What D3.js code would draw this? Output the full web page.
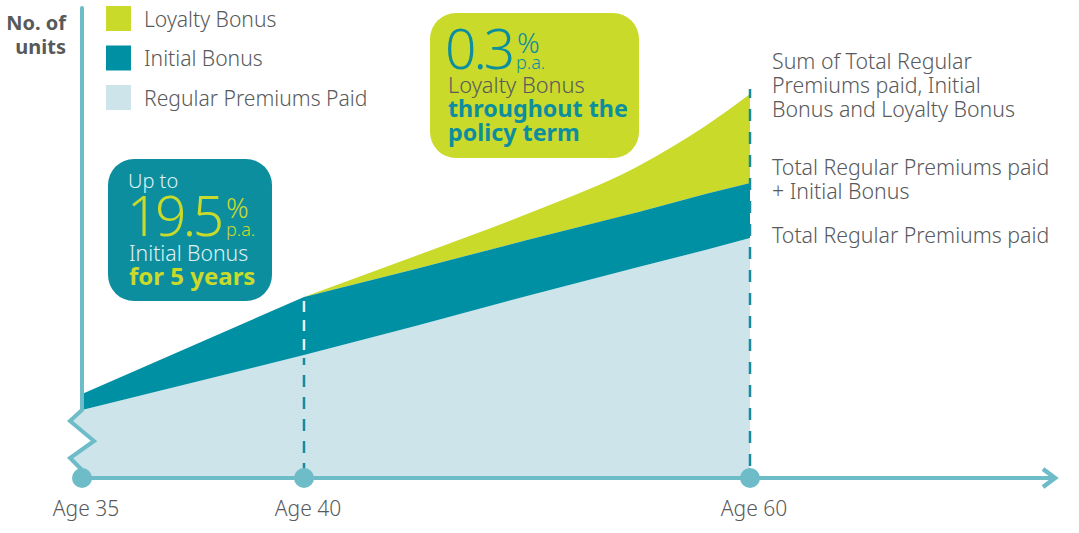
<!DOCTYPE html>
<html>
<head>
<meta charset="utf-8">
<script src="https://cdn.jsdelivr.net/npm/d3@7"></script>
<style>
  body { margin: 0; background: #fff; }
  text { font-family: "Noto Sans", sans-serif; fill: #58595b; font-weight: 300; }
  .strong { font-weight: 700; }
</style>
</head>
<body>
<svg id="chart" width="1079" height="533"></svg>
<script>
// values (units are arbitrary, y axis has no ticks)
var ages = [35, 40, 45, 50, 55, 58, 60];
var premiums = [68, 123, 152, 182, 211, 228, 240];
var withInitial = [84, 181, 209, 238, 266, 284, 295];
var withLoyalty = [84, 181, 222, 264, 312, 352, 384];

// the broken bottom of the y axis
var breakAges = [35, 34.73, 35.27, 34.73, 35];
var breakUnits = [68, 57, 37, 20, 8];

var tickAges = [35, 40, 60];
var tickLabels = ["Age 35", "Age 40", "Age 60"];

var legendNames = ["Loyalty Bonus", "Initial Bonus", "Regular Premiums Paid"];
var legendColors = ["#c9da2a", "#0090a4", "#cde4ea"];
var sideNotes = [
  "Sum of Total Regular", "Premiums paid, Initial", "Bonus and Loyalty Bonus",
  "Total Regular Premiums paid", "+ Initial Bonus",
  "Total Regular Premiums paid"
];
var sideNoteY = [68, 92, 116, 174, 198, 242];

var axisColor = "#6dbcc8";
var dashColor = "#1b8a9c";

var svg = d3.select("#chart");

// age axis is not to scale in the original so it is piecewise
var x = d3.scaleLinear().domain([35, 40, 60]).range([82, 304, 750]);
var y = d3.scaleLinear().domain([0, 470]).range([478, 8]);

var rows = ages.map(function(a, i) {
  return { age: a, p: premiums[i], i: withInitial[i], l: withLoyalty[i] };
});

// light area first, with the zigzag on its left edge
var lightShape = [[x(35), y(0)]];
breakAges.slice().reverse().forEach(function(a, i) {
  lightShape.push([x(a), y(breakUnits[breakUnits.length - 1 - i])]);
});
rows.forEach(function(d) { lightShape.push([x(d.age), y(d.p)]); });
lightShape.push([x(60), y(0)]);

svg.append("path")
  .attr("d", d3.line()(lightShape) + "Z")
  .attr("fill", legendColors[2]);

var loyaltyArea = d3.area()
  .x(function(d) { return x(d.age); })
  .y0(function(d) { return y(d.i); })
  .y1(function(d) { return y(d.l); })
  .curve(d3.curveMonotoneX);
svg.append("path").datum(rows.slice(1)).attr("d", loyaltyArea).attr("fill", legendColors[0]);

var initialArea = d3.area()
  .x(function(d) { return x(d.age); })
  .y0(function(d) { return y(d.p); })
  .y1(function(d) { return y(d.i); });
svg.append("path").datum(rows).attr("d", initialArea).attr("fill", legendColors[1]);

// y axis + break
svg.append("line")
  .attr("x1", x(35)).attr("x2", x(35))
  .attr("y1", 8).attr("y2", y(68))
  .attr("stroke", axisColor).attr("stroke-width", 4).attr("stroke-linecap", "round");
svg.append("path")
  .attr("d", d3.line()(breakAges.map(function(a, i) { return [x(a), y(breakUnits[i])]; })))
  .attr("fill", "none").attr("stroke", axisColor).attr("stroke-width", 4);

// dashed drop lines, age 40 goes pale while it crosses the dark band
var r40 = rows[1], r60 = rows[6];
var drops = [
  { age: 40, from: y(r40.i) + 4, to: y(r40.p) - 5, color: "#e3f1f4", dash: "11 8", off: 0 },
  { age: 40, from: y(r40.p) + 3, to: y(0), color: dashColor, dash: "12 10", off: 5 },
  { age: 60, from: y(r60.l) - 5, to: y(0), color: dashColor, dash: "12 11", off: 3 }
];
svg.selectAll(".drop").data(drops).enter().append("line")
  .attr("class", "drop")
  .attr("x1", function(d) { return x(d.age); })
  .attr("x2", function(d) { return x(d.age); })
  .attr("y1", function(d) { return d.from; })
  .attr("y2", function(d) { return d.to; })
  .attr("stroke", function(d) { return d.color; })
  .attr("stroke-width", 2.5)
  .attr("stroke-dasharray", function(d) { return d.dash; })
  .attr("stroke-dashoffset", function(d) { return d.off; });

// x axis with arrow
svg.append("line")
  .attr("x1", x(35)).attr("x2", 1054)
  .attr("y1", y(0)).attr("y2", y(0))
  .attr("stroke", axisColor).attr("stroke-width", 4);
svg.append("path")
  .attr("d", "M1043," + (y(0) - 9) + "L1055," + y(0) + "L1043," + (y(0) + 9))
  .attr("fill", "none").attr("stroke", axisColor).attr("stroke-width", 4.5);

svg.selectAll(".dot").data(tickAges).enter().append("circle")
  .attr("class", "dot")
  .attr("cx", function(d) { return x(d); })
  .attr("cy", y(0))
  .attr("r", 10)
  .attr("fill", axisColor);

svg.selectAll(".tick").data(tickAges).enter().append("text")
  .attr("class", "tick")
  .attr("x", function(d) { return x(d) + 4; })
  .attr("y", 516)
  .attr("text-anchor", "middle")
  .style("font-size", "21px")
  .text(function(d, i) { return tickLabels[i]; });

// y title
svg.selectAll(".ytitle").data(["No. of", "units"]).enter().append("text")
  .attr("class", "ytitle strong")
  .attr("x", 66)
  .attr("y", function(d, i) { return 30 + i * 24; })
  .attr("text-anchor", "end")
  .style("font-size", "20px")
  .text(function(d) { return d; });

// legend
var legend = svg.selectAll(".legend").data(legendNames).enter().append("g")
  .attr("class", "legend")
  .attr("transform", function(d, i) { return "translate(106," + (6 + i * 39.5) + ")"; });
legend.append("rect")
  .attr("width", 25).attr("height", 25)
  .attr("fill", function(d, i) { return legendColors[i]; });
legend.append("text")
  .attr("x", 38).attr("y", 20.5)
  .style("font-size", "21.1px")
  .text(function(d) { return d; });

// right hand notes
svg.selectAll(".note").data(sideNotes).enter().append("text")
  .attr("class", "note")
  .attr("x", 772)
  .attr("y", function(d, i) { return sideNoteY[i] + 0.5; })
  .style("font-size", "21.3px")
  .text(function(d) { return d; });

// callouts
function label(g, str, px, py, size, color, bold, spacing) {
  g.append("text")
    .attr("x", px).attr("y", py)
    .attr("class", bold ? "strong" : null)
    .style("font-size", size + "px")
    .style("letter-spacing", (spacing || 0) + "px")
    .style("fill", color)
    .text(str);
}

var boxA = svg.append("g");
boxA.append("rect")
  .attr("x", 108).attr("y", 159).attr("width", 164).attr("height", 142)
  .attr("rx", 26).attr("fill", "#0d8e9f");
label(boxA, "Up to", 128, 188, 20, "#dff1f4");
label(boxA, "19.5", 127, 236, 55, "#c9da2a", false, -3.5);
label(boxA, "%", 226, 218, 28, "#c9da2a");
label(boxA, "p.a.", 226, 236, 18, "#c9da2a");
label(boxA, "Initial Bonus", 129, 261, 21.2, "#dff1f4");
label(boxA, "for 5 years", 129, 285, 24, "#c9da2a", true);

var boxB = svg.append("g");
boxB.append("rect")
  .attr("x", 430).attr("y", 13).attr("width", 209).attr("height", 145)
  .attr("rx", 26).attr("fill", "#c9da2a");
label(boxB, "0.3", 445, 69, 55, "#0d8e9f", false, -3);
label(boxB, "%", 517, 53, 28, "#0d8e9f");
label(boxB, "p.a.", 516, 69, 18, "#0d8e9f");
label(boxB, "Loyalty Bonus", 448, 93, 21.8, "#58595b");
label(boxB, "throughout the", 448, 117, 23.3, "#0d8e9f", true);
label(boxB, "policy term", 448, 141, 23.3, "#0d8e9f", true);
</script>
</body>
</html>
